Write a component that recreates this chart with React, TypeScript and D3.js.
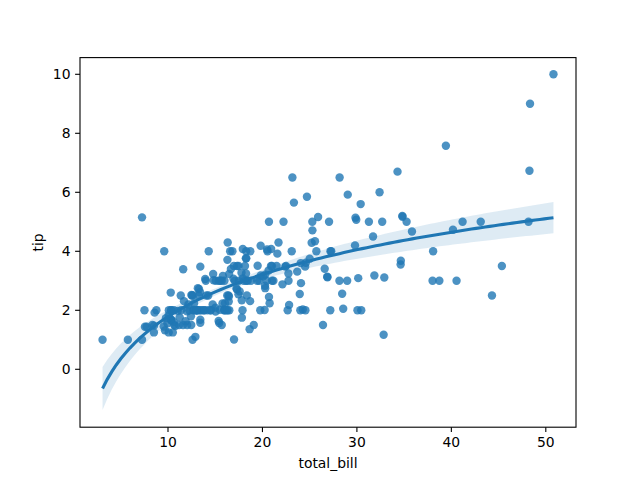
import React from "react";
import * as d3 from "d3";

const totalBill: number[] = [16.99,10.34,21.01,23.68,24.59,25.29,8.77,26.88,15.04,14.78,10.27,35.26,15.42,18.43,14.83,21.58,10.33,16.29,16.97,20.65,17.92,20.29,15.77,39.42,19.82,17.81,13.37,12.69,21.7,19.65,9.55,18.35,15.06,20.69,17.78,24.06,16.31,16.93,18.69,31.27,16.04,17.46,13.94,9.68,30.4,18.29,22.23,32.4,28.55,18.04,12.54,10.29,34.81,9.94,25.56,19.49,38.01,26.41,11.24,48.27,20.29,13.81,11.02,18.29,17.59,20.08,16.45,3.07,20.23,15.01,12.02,17.07,26.86,25.28,14.73,10.51,17.92,27.2,22.76,17.29,19.44,16.66,10.07,32.68,15.98,34.83,13.03,18.28,24.71,21.16,28.97,22.49,5.75,16.32,22.75,40.17,27.28,12.03,21.01,12.46,11.35,15.38,44.3,22.42,20.92,15.36,20.49,25.21,18.24,14.31,14.0,7.25,38.07,23.95,25.71,17.31,29.93,10.65,12.43,24.08,11.69,13.42,14.26,15.95,12.48,29.8,8.52,14.52,11.38,22.82,19.08,20.27,11.17,12.26,18.26,8.51,10.33,14.15,16.0,13.16,17.47,34.3,41.19,27.05,16.43,8.35,18.64,11.87,9.78,7.51,14.07,13.13,17.26,24.55,19.77,29.85,48.17,25.0,13.39,16.49,21.5,12.66,16.21,13.81,17.51,24.52,20.76,31.71,10.59,10.63,50.81,15.81,7.25,31.85,16.82,32.9,17.89,14.48,9.6,34.63,34.65,23.33,45.35,23.17,40.55,20.69,20.9,30.46,18.15,23.1,15.69,19.81,28.44,15.48,16.58,7.56,10.34,43.11,13.0,13.51,18.71,12.74,13.0,16.4,20.53,16.47,26.59,38.73,24.27,12.76,30.06,25.89,48.33,13.27,28.17,12.9,28.15,11.59,7.74,30.14,12.16,13.42,8.58,15.98,13.42,16.27,10.09,20.45,13.28,22.12,24.01,15.69,11.61,10.77,15.53,10.07,12.6,32.83,35.83,29.03,27.18,22.67,17.82,18.78];

const tip: number[] = [1.01,1.66,3.5,3.31,3.61,4.71,2.0,3.12,1.96,3.23,1.71,5.0,1.57,3.0,3.02,3.92,1.67,3.71,3.5,3.35,4.08,2.75,2.23,7.58,3.18,2.34,2.0,2.0,4.3,3.0,1.45,2.5,3.0,2.45,3.27,3.6,2.0,3.07,2.31,5.0,2.24,2.54,3.06,1.32,5.6,3.0,5.0,6.0,2.05,3.0,2.5,2.6,5.2,1.56,4.34,3.51,3.0,1.5,1.76,6.73,3.21,2.0,1.98,3.76,2.64,3.15,2.47,1.0,2.01,2.09,1.97,3.0,3.14,5.0,2.2,1.25,3.08,4.0,3.0,2.71,3.0,3.4,1.83,5.0,2.03,5.17,2.0,4.0,5.85,3.0,3.0,3.5,1.0,4.3,3.25,4.73,4.0,1.5,3.0,1.5,2.5,3.0,2.5,3.48,4.08,1.64,4.06,4.29,3.76,4.0,3.0,1.0,4.0,2.55,4.0,3.5,5.07,1.5,1.8,2.92,2.31,1.68,2.5,2.0,2.52,4.2,1.48,2.0,2.0,2.18,1.5,2.83,1.5,2.0,3.25,1.25,2.0,2.0,2.0,2.75,3.5,6.7,5.0,5.0,2.3,1.5,1.36,1.63,1.73,2.0,2.5,2.0,2.74,2.0,2.0,5.14,5.0,3.75,2.61,2.0,3.5,2.5,2.0,2.0,3.0,3.48,2.24,4.5,1.61,2.0,10.0,3.16,5.15,3.18,4.0,3.11,2.0,2.0,4.0,3.55,3.68,5.65,3.5,6.5,3.0,5.0,3.5,2.0,3.5,4.0,1.5,4.19,2.56,2.02,4.0,1.44,2.0,5.0,2.0,2.0,4.0,2.01,2.0,2.5,4.0,3.23,3.41,3.0,2.03,2.23,2.0,5.16,9.0,2.5,6.5,1.1,3.0,1.5,1.44,3.09,2.2,3.48,1.92,3.0,1.58,2.5,2.0,3.0,2.72,2.88,2.0,3.0,3.39,1.47,3.0,1.25,1.0,1.17,4.67,5.92,2.0,2.0,1.75,3.0];

const xTicks: number[] = [10, 20, 30, 40, 50];
const yTicks: number[] = [0, 2, 4, 6, 8, 10];
const yLimits: number[] = [-1.963, 10.566];

const W = 640, H = 480;
const L = 80, R = 576, T = 57.6, B = 427.2;
const COLOR = "#1f77b4";
const FONT = "DejaVu Sans, sans-serif";

export default function App() {
  const xmin = d3.min(totalBill)!, xmax = d3.max(totalBill)!;
  const pad = (xmax - xmin) * 0.05;
  const x = d3.scaleLinear().domain([xmin - pad, xmax + pad]).range([L, R]);
  const y = d3.scaleLinear().domain(yLimits).range([B, T]);

  // OLS fit of tip on log(total_bill), robust (sandwich) CI approximating bootstrap
  const lx = totalBill.map(Math.log);
  const n = lx.length;
  const mx = d3.mean(lx)!, my = d3.mean(tip)!;
  let sxx = 0, sxy = 0;
  for (let i = 0; i < n; i++) { sxx += (lx[i] - mx) ** 2; sxy += (lx[i] - mx) * (tip[i] - my); }
  const b = sxy / sxx, a = my - b * mx;
  let s0 = 0, s1 = 0, s2 = 0;
  for (let i = 0; i < n; i++) {
    const e2 = (tip[i] - a - b * lx[i]) ** 2;
    const c = lx[i] - mx;
    s0 += e2; s1 += c * e2; s2 += c * c * e2;
  }
  const v0 = s0 / (n * n), vb = s2 / (sxx * sxx), cv = s1 / (n * sxx);
  const grid = d3.range(100).map(i => xmin + (xmax - xmin) * i / 99);
  const fit = grid.map(g => {
    const c = Math.log(g) - mx;
    const yh = my + b * c;
    const se = Math.sqrt(v0 + c * c * vb + 2 * c * cv);
    return { x: g, y: yh, lo: yh - 1.96 * se, hi: yh + 1.96 * se };
  });
  const line = d3.line<any>().x(d => x(d.x)).y(d => y(d.y))(fit)!;
  const area = d3.area<any>().x(d => x(d.x)).y0(d => y(d.lo)).y1(d => y(d.hi))(fit)!;

  return (
    <svg width={W} height={H} style={{ display: "block", margin: -8 }} fontFamily={FONT}>
      <rect width={W} height={H} fill="white" />
      <defs>
        <clipPath id="clip"><rect x={L} y={T} width={R - L} height={B - T} /></clipPath>
      </defs>
      <g clipPath="url(#clip)">
        {totalBill.map((v, i) => (
          <circle key={i} cx={x(v)} cy={y(tip[i])} r={4.2} fill={COLOR} fillOpacity={0.8} />
        ))}
        <path d={area} fill={COLOR} fillOpacity={0.15} stroke="none" />
        <path d={line} fill="none" stroke={COLOR} strokeWidth={3.1} />
      </g>
      <rect x={L} y={T} width={R - L} height={B - T} fill="none" stroke="black" strokeWidth={1.1} />
      {xTicks.map(t => (
        <g key={t}>
          <line x1={x(t)} x2={x(t)} y1={B} y2={B + 4.9} stroke="black" strokeWidth={1.1} />
          <text x={x(t)} y={B + 20} textAnchor="middle" fontSize={13.9} fill="black">{t}</text>
        </g>
      ))}
      {yTicks.map(t => (
        <g key={t}>
          <line x1={L - 4.9} x2={L} y1={y(t)} y2={y(t)} stroke="black" strokeWidth={1.1} />
          <text x={L - 9.5} y={y(t)} dy="0.35em" textAnchor="end" fontSize={13.9} fill="black">{t}</text>
        </g>
      ))}
      <text x={(L + R) / 2} y={468} textAnchor="middle" fontSize={13.9} fill="black">total_bill</text>
      <text transform={`translate(43,${(T + B) / 2}) rotate(-90)`} textAnchor="middle" fontSize={13.9} fill="black">tip</text>
    </svg>
  );
}
